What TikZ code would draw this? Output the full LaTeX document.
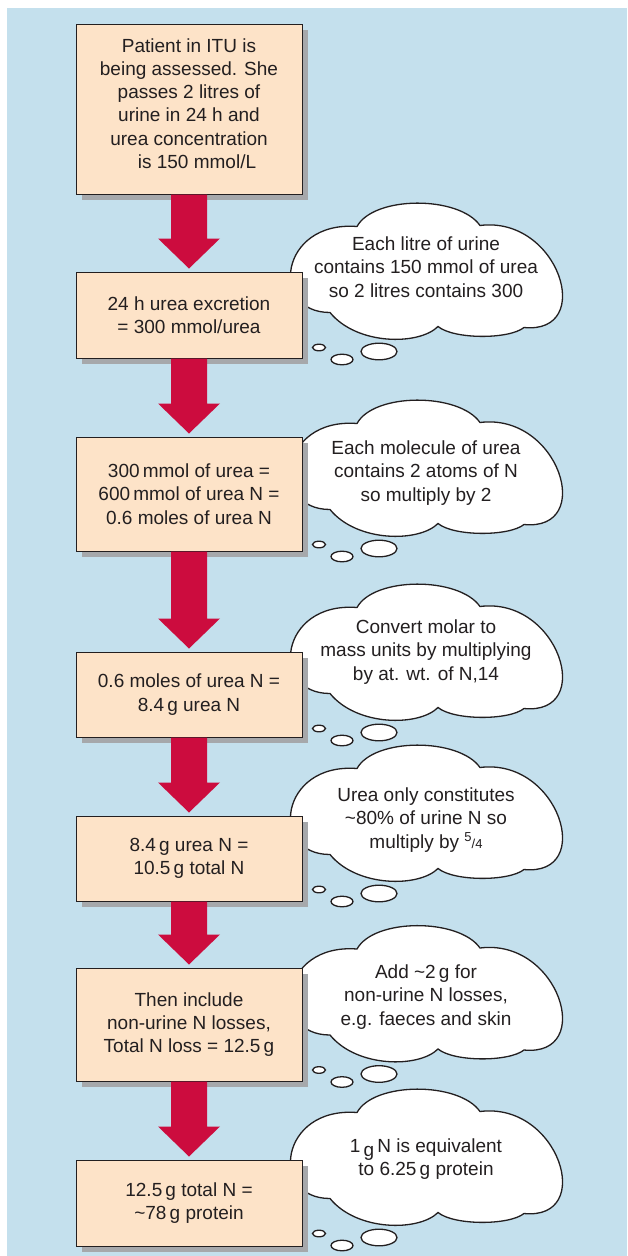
\documentclass[tikz,border=0pt]{standalone}
\usepackage{fontspec}
\setmainfont{Liberation Sans}
\usetikzlibrary{calc,shadows}
\definecolor{bgblue}{RGB}{196,224,237}
\definecolor{peach}{RGB}{253,227,200}
\definecolor{arrowred}{RGB}{204,12,62}
\definecolor{shadowgray}{RGB}{166,168,171}
\definecolor{inkgray}{RGB}{35,31,32}
\tikzset{
 flowbox/.style={draw=inkgray, line width=1pt, fill=peach, align=center, inner sep=0pt,
   minimum width=226pt, text=inkgray, font=\fontsize{19}{23.3}\selectfont,
   drop shadow={shadow xshift=6pt, shadow yshift=-6pt, fill=shadowgray, opacity=1}},
 cloudline/.style={draw=inkgray, line width=1.3pt, fill=white},
 cloudtext/.style={align=center, inner sep=0pt, text=inkgray, font=\fontsize{19}{23.3}\selectfont},
}
\newcommand{\flowarrow}[2]{%
 \fill[arrowred] ($(#1.south)+(-18,0)$) -- ($(#1.south)+(18,0)$) -- ($(#2.north)+(18,-33)$)
   -- ($(#2.north)+(31,-33)$) -- ($(#2.north)+(0,-3)$) -- ($(#2.north)+(-31,-33)$)
   -- ($(#2.north)+(-18,-33)$) -- cycle;}
\newcommand{\thoughtcloud}[4]{%
 \begin{scope}[shift={(424,#2)}]
  \filldraw[cloudline] (-94,42) .. controls (-155,42) and (-145,-50) .. (-67,-44)
    .. controls (-50,-75) and (35,-75) .. (56,-45)
    .. controls (135,-55) and (172,64) .. (100,57)
    .. controls (85,69) and (30,69) .. (14,56)
    .. controls (-5,75) and (-67,75) .. cycle;
  \filldraw[cloudline] (-105,77) ellipse [x radius=6.5, y radius=3.3];
  \filldraw[cloudline] (-82,89) ellipse [x radius=11, y radius=5.3];
  \filldraw[cloudline] (-45,81) ellipse [x radius=18, y radius=8.3];
 \end{scope}
 \node[cloudtext] (#1) at (426,#3) {#4};}
\begin{document}
\begin{tikzpicture}[x=1pt,y=-1pt]
\useasboundingbox (0,0) rectangle (627,1256);
\fill[bgblue] (7,8) rectangle (627,1256);
% clouds
\thoughtcloud{c1}{270.5}{267}{Each litre of urine\\contains 150 mmol of urea\\so 2 litres contains 300}
\thoughtcloud{c2}{467.5}{473}{Each molecule of urea\\contains 2 atoms of N\\so multiply by 2}
\thoughtcloud{c3}{651.5}{652}{Convert molar to\\mass units by multiplying\\by at. wt. of N,14}
\thoughtcloud{c4}{812.5}{820}{Urea only constitutes\\\textasciitilde80\% of urine N so\\multiply by {\fontsize{13}{13}\selectfont\raisebox{7pt}{5}/4}}
\thoughtcloud{c5}{993}{997}{Add \textasciitilde2\,g for\\non-urine N losses,\\e.g. faeces and skin}
\thoughtcloud{c6}{1156.5}{1159}{1\,\raisebox{-4pt}{g}\,N is equivalent\\to 6.25\,g protein}
% boxes
\node[flowbox, minimum height=170pt] (b1) at (189,109) {};
\node[cloudtext] (b1text) at (189,103.5) {Patient in ITU is\\being assessed. She\\passes 2 litres of\\urine in 24 h and\\urea concentration\\\hspace*{16pt}is 150 mmol/L};
\node[flowbox, minimum height=86pt] (b2) at (189,315) {24 h urea excretion\\= 300 mmol/urea};
\node[flowbox, minimum height=114pt] (b3) at (189,494) {300\,mmol of urea =\\600\,mmol of urea N =\\0.6 moles of urea N};
\node[flowbox, minimum height=85pt] (b4) at (189,694.5) {0.6 moles of urea N =\\8.4\,g urea N};
\node[flowbox, minimum height=85pt] (b5) at (189,858.5) {8.4\,g urea N =\\10.5\,g total N};
\node[flowbox, minimum height=113pt] (b6) at (189,1024.5) {Then include\\non-urine N losses,\\Total N loss = 12.5\,g};
\node[flowbox, minimum height=86pt] (b7) at (189,1203) {12.5\,g total N =\\\textasciitilde78\,g protein};
% arrows
\flowarrow{b1}{b2}
\flowarrow{b2}{b3}
\flowarrow{b3}{b4}
\flowarrow{b4}{b5}
\flowarrow{b5}{b6}
\flowarrow{b6}{b7}
\end{tikzpicture}
\end{document}
